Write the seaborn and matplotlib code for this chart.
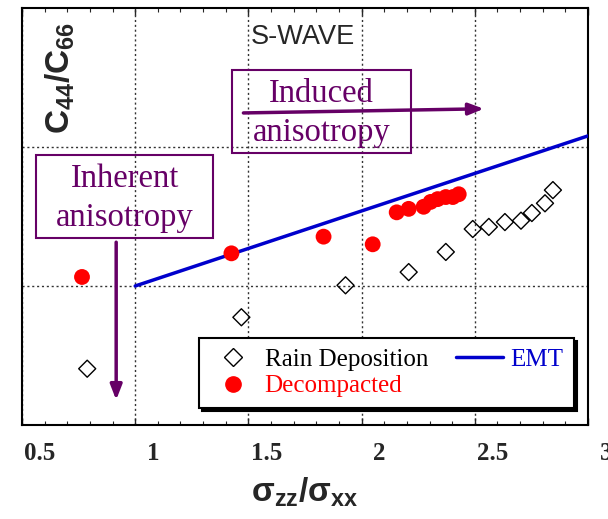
import matplotlib
matplotlib.use('Agg')
import matplotlib.pyplot as plt
import matplotlib.transforms as mtransforms
from matplotlib.lines import Line2D
from matplotlib.patches import Rectangle
from matplotlib.ticker import MultipleLocator
import seaborn as sns
import pandas as pd

# ---- data ----
rain_x = [0.788, 1.469, 1.929, 2.208, 2.372, 2.491, 2.562, 2.633, 2.704, 2.752, 2.810, 2.845]
rain_y = [0.681, 0.755, 0.801, 0.820, 0.849, 0.882, 0.885, 0.892, 0.894, 0.905, 0.919, 0.938]
dec_x = [0.765, 1.425, 1.832, 2.049, 2.155, 2.208, 2.274, 2.305, 2.336, 2.372, 2.403, 2.429]
dec_y = [0.813, 0.847, 0.871, 0.860, 0.906, 0.911, 0.914, 0.921, 0.925, 0.928, 0.928, 0.932]
emt_x = [1.0, 1.5, 2.0, 2.5, 3.0]
emt_y = [0.800, 0.854, 0.908, 0.962, 1.016]
xticks = [0.5, 1.0, 1.5, 2.0, 2.5, 3.0]
xtick_labels = ['0.5', '1', '1.5', '2', '2.5', '3']
ygrid = [0.8, 1.0]
series_names = ['Rain Deposition', 'Decompacted', 'EMT']

rain = pd.DataFrame({'x': rain_x, 'y': rain_y})
dec = pd.DataFrame({'x': dec_x, 'y': dec_y})
emt = pd.DataFrame({'x': emt_x, 'y': emt_y})

sns.set_style('white')
plt.rcParams['font.family'] = ['Liberation Serif', 'DejaVu Serif']
plt.rcParams['mathtext.fontset'] = 'custom'
plt.rcParams['mathtext.bf'] = 'Liberation Sans:bold'
plt.rcParams['mathtext.rm'] = 'Liberation Sans'
plt.rcParams['mathtext.it'] = 'Liberation Sans:italic'

PURPLE = '#660066'
BLUE = '#0000cc'

fig = plt.figure(figsize=(6.08, 5.19), dpi=100)
ax = fig.add_axes([22/608, 94/519, 566/608, 417/519])

sns.lineplot(data=emt, x='x', y='y', ax=ax, color=BLUE, lw=2.5, zorder=3)
sns.scatterplot(data=rain, x='x', y='y', ax=ax, marker='D', s=75,
                facecolor='none', edgecolor='black', linewidth=1.0, zorder=4)
sns.scatterplot(data=dec, x='x', y='y', ax=ax, marker='o', s=130,
                color='red', edgecolor='none', linewidth=0, zorder=4)

ax.set_xlim(0.5, 3.0)
ax.set_ylim(0.6, 1.2)
ax.set_xticks(xticks)
ax.set_xticklabels(xtick_labels, fontsize=18, fontweight='bold')
ax.xaxis.set_minor_locator(MultipleLocator(0.1))
ax.set_yticks(ygrid)
ax.set_yticklabels([])
ax.tick_params(axis='y', which='both', length=0)
ax.tick_params(axis='x', which='both', direction='in', top=True, bottom=True, pad=12)
ax.tick_params(axis='x', which='major', length=5, width=1)
ax.tick_params(axis='x', which='minor', length=3, width=0.8)
ax.grid(True, which='major', color='#333333', linestyle=(0, (1.5, 2)), linewidth=1.0)
for s in ax.spines.values():
    s.set_color('black')
    s.set_linewidth(1.5)

offset = mtransforms.ScaledTranslation(18/100, 0, fig.dpi_scale_trans)
for lab in ax.get_xticklabels():
    lab.set_transform(lab.get_transform() + offset)

ax.set_xlabel(r'$\mathbf{\sigma_{zz}/\sigma_{xx}}$', fontsize=24, labelpad=8)
ax.set_ylabel('')
ax.text(0.067, 0.832, r'$\mathbf{C_{44}/C_{66}}$', transform=ax.transAxes,
        rotation=90, fontsize=24, ha='center', va='center')
ax.text(0.497, 0.930, 'S-WAVE', transform=ax.transAxes, fontsize=19.5,
        family='Liberation Sans', ha='center', va='center')

# annotation boxes
ax.add_patch(Rectangle((1.429, 0.991), 2.217 - 1.429, 1.111 - 0.991, fill=False,
                       edgecolor=PURPLE, linewidth=1.5, zorder=5))
ax.add_patch(Rectangle((0.562, 0.869), 1.345 - 0.562, 0.988 - 0.869, fill=False,
                       edgecolor=PURPLE, linewidth=1.5, zorder=5))
ax.text(1.823, 1.049, 'Induced\nanisotropy', fontsize=23.5, color=PURPLE,
        ha='center', va='center', linespacing=1.37, zorder=5)
ax.text(0.954, 0.926, 'Inherent\nanisotropy', fontsize=23.5, color=PURPLE,
        ha='center', va='center', linespacing=1.37, zorder=5)

arrow = dict(arrowstyle='-|>,head_length=0.9,head_width=0.35', color=PURPLE, lw=2.5,
             shrinkA=0, shrinkB=0)
ax.annotate('', xy=(2.540, 1.055), xytext=(1.478, 1.049), arrowprops=arrow, zorder=6)
ax.annotate('', xy=(0.916, 0.636), xytext=(0.916, 0.863), arrowprops=arrow, zorder=6)

h1 = Line2D([], [], marker='D', ls='none', mfc='none', mec='black', ms=9, mew=1)
h2 = Line2D([], [], marker='o', ls='none', color='red', ms=11)
h3 = Line2D([], [], color=BLUE, lw=2.5)
leg = ax.legend([h1, h2, h3], series_names, ncol=2, loc='lower left',
                bbox_to_anchor=(0.313, 0.041), fontsize=18, frameon=True,
                fancybox=False, shadow={'color': 'black', 'alpha': 1},
                edgecolor='black', framealpha=1, handlelength=1.9,
                handletextpad=0.3, columnspacing=1.1, borderpad=0.42,
                labelspacing=0.15, borderaxespad=0)
leg.get_frame().set_linewidth(1.5)
for t, c in zip(leg.get_texts(), ['black', 'red', BLUE]):
    t.set_color(c)
leg.set_zorder(7)

fig.savefig('out.png', dpi=100)
